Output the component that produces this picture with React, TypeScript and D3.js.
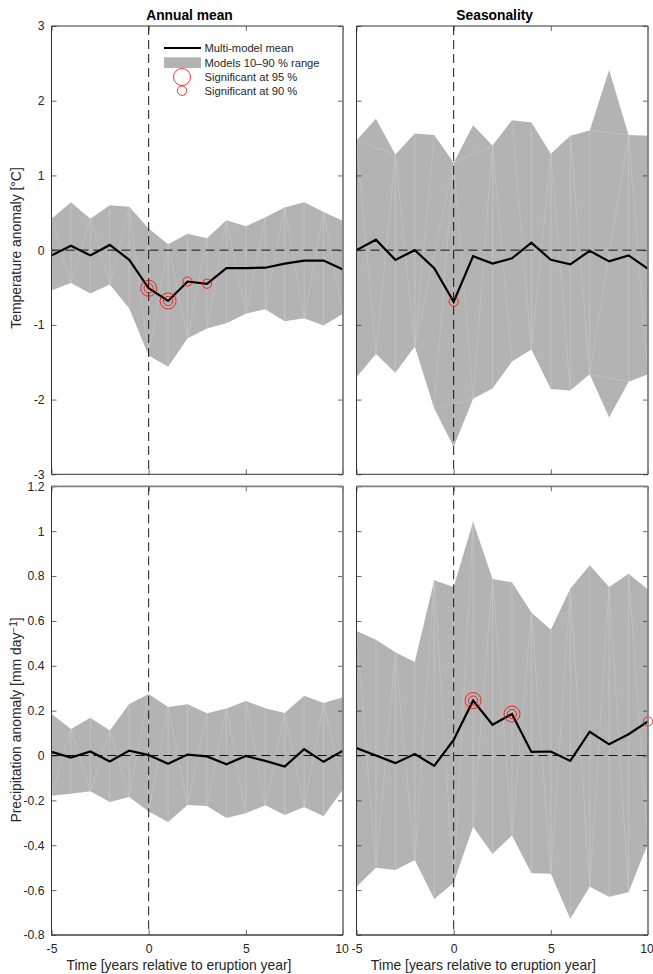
import * as d3 from "d3"
import { useEffect, useRef } from "react"

const years = d3.range(-5, 11)

const tempTicks = [-3, -2, -1, 0, 1, 2, 3]
const precTicks = [-0.8, -0.6, -0.4, -0.2, 0, 0.2, 0.4, 0.6, 0.8, 1, 1.2]
const yearTicks = [-5, 0, 5, 10]

// annual mean, temperature
const tempAnnualHigh = [0.42, 0.64, 0.42, 0.60, 0.58, 0.29, 0.08, 0.22, 0.16, 0.40, 0.32, 0.44, 0.57, 0.64, 0.51, 0.39]
const tempAnnualLow = [-0.54, -0.44, -0.58, -0.46, -0.78, -1.41, -1.56, -1.18, -1.05, -0.98, -0.85, -0.79, -0.95, -0.91, -1.01, -0.85]
const tempAnnualMean = [-0.07, 0.06, -0.07, 0.07, -0.13, -0.51, -0.68, -0.42, -0.45, -0.24, -0.24, -0.235, -0.18, -0.14, -0.14, -0.26]

// seasonality, temperature
const tempSeasonHigh = [1.47, 1.76, 1.28, 1.56, 1.54, 1.17, 1.67, 1.40, 1.74, 1.71, 1.29, 1.53, 1.60, 2.41, 1.54, 1.53]
const tempSeasonLow = [-1.70, -1.39, -1.64, -1.29, -2.12, -2.63, -1.99, -1.85, -1.49, -1.33, -1.86, -1.88, -1.66, -2.24, -1.76, -1.66]
const tempSeasonMean = [0, 0.14, -0.13, 0, -0.24, -0.69, -0.08, -0.18, -0.11, 0.10, -0.13, -0.19, -0.01, -0.15, -0.07, -0.25]

// annual mean, precipitation
const precAnnualHigh = [0.185, 0.118, 0.168, 0.112, 0.23, 0.274, 0.216, 0.228, 0.188, 0.21, 0.243, 0.211, 0.189, 0.266, 0.234, 0.26]
const precAnnualLow = [-0.179, -0.17, -0.159, -0.207, -0.185, -0.25, -0.296, -0.22, -0.225, -0.278, -0.257, -0.222, -0.265, -0.229, -0.271, -0.15]
const precAnnualMean = [0.016, -0.009, 0.018, -0.027, 0.022, 0.002, -0.037, 0.004, -0.004, -0.039, -0.002, -0.024, -0.049, 0.028, -0.028, 0.022]

// seasonality, precipitation
const precSeasonHigh = [0.555, 0.516, 0.46, 0.417, 0.781, 0.751, 1.042, 0.787, 0.772, 0.638, 0.561, 0.743, 0.848, 0.751, 0.81, 0.74]
const precSeasonLow = [-0.585, -0.5, -0.51, -0.466, -0.64, -0.567, -0.317, -0.439, -0.356, -0.525, -0.527, -0.728, -0.585, -0.63, -0.609, -0.391]
const precSeasonMean = [0.033, 0, -0.034, 0.007, -0.046, 0.07, 0.245, 0.137, 0.185, 0.016, 0.018, -0.024, 0.106, 0.05, 0.095, 0.152]

// seams of the patch triangulation: H/L = upper/lower edge, number = index into years
const allInner = d3.range(1, 15)
const seamsTL = "H0L1 L1H2 H2L3 L3H4 H4L5 L5H6 H6L7 L7H8 L8H9 H9L10 L10H11 L11H12 H12L13 L13H14 H14L15"
const seamsTR = "H0L1 L1H2 H2L3 H4L3 H5L3 L4H5 H5L6 L6H7 H7L8 H8L9 L9H10 H10L11 H11L12 L12H14 H14L15 H0H2 H5H7 H12H14 L4L6 L12L14"
const seamsBL = "L0H1 H1L2 L2H3 H3L4 L4H5 L5H6 H6L7 L7H8 L8H9 H9L10 H10L11 L11H12 H12L13 L13H14 H14L15"
const seamsBR = "H0L1 L1H2 H2L3 L3H4 H4L5 L5H6 L6H7 H7L8 L8H9 H9L10 L10H11 H11L12 L12H13 H13L14 H14L15"
const uprightsTR = [2, 3, 7, 9, 10, 11, 12, 14]

const BAND = "#b3b3b3"
const SEAM = "#cbcbcb"
const INK = "#262626"
const FONT = "'Liberation Sans', Arial, sans-serif"

const drawPanel = (svg, opts) => {
    const { left, right, top, bottom, domain, ticks, high, low, mean, sig95, sig90, showY, yTitle, yTitleY, xTitle, xTitleX, title, titleX, seams, uprights, lowerRow } = opts
    const x = d3.scaleLinear().domain([-5, 10]).range([left, right])
    const y = d3.scaleLinear().domain(domain).range([bottom, top])
    const g = svg.append("g")

    // filled band
    const area = d3.area().x((d, i) => x(years[i])).y0((d, i) => y(low[i])).y1(d => y(d))
    g.append("path").attr("d", area(high)).attr("fill", BAND)

    // the light seams between the patch triangles
    const vertex = (edge, i) => [x(years[i]), y(edge === "H" ? high[i] : low[i])]
    uprights.forEach(i => {
        g.append("line").attr("x1", x(years[i])).attr("x2", x(years[i]))
            .attr("y1", y(high[i])).attr("y2", y(low[i]))
            .attr("stroke", SEAM).attr("stroke-width", 0.6)
    })
    seams.split(" ").forEach(s => {
        const m = s.match(/([HL])(\d+)([HL])(\d+)/)
        const a = vertex(m[1], +m[2])
        const b = vertex(m[3], +m[4])
        g.append("line").attr("x1", a[0]).attr("y1", a[1]).attr("x2", b[0]).attr("y2", b[1])
            .attr("stroke", SEAM).attr("stroke-width", 0.5)
    })

    // zero lines
    g.append("line").attr("x1", x(-5)).attr("x2", x(10)).attr("y1", y(0)).attr("y2", y(0))
        .attr("stroke", "#000").attr("stroke-width", 0.9).attr("stroke-dasharray", "9,5")
    g.append("line").attr("x1", x(0)).attr("x2", x(0)).attr("y1", top).attr("y2", bottom)
        .attr("stroke", "#000").attr("stroke-width", 0.9).attr("stroke-dasharray", "9,5")

    // mean
    const line = d3.line().x((d, i) => x(years[i])).y(d => y(d))
    g.append("path").attr("d", line(mean)).attr("fill", "none").attr("stroke", "#000")
        .attr("stroke-width", 2.2).attr("stroke-linejoin", "miter")

    const circles = (list, r) => list.forEach(yr => {
        g.append("circle").attr("cx", x(yr)).attr("cy", y(mean[years.indexOf(yr)])).attr("r", r)
            .attr("fill", "none").attr("stroke", "#ff0000").attr("stroke-width", 0.8)
    })
    circles(sig95, 8)
    circles(sig90, 4.6)

    // axes, ticks point inwards on all four sides
    const tickLen = 5
    const addAxis = (axis, tx, ty, labels) => {
        const a = g.append("g").attr("transform", `translate(${tx},${ty})`).call(axis)
        a.select(".domain").remove()
        a.selectAll("line").attr("stroke", INK).attr("stroke-width", 0.7)
        a.selectAll("text").attr("fill", INK).attr("font-family", FONT).attr("font-size", 12.2)
        if (!labels) a.selectAll("text").remove()
        return a
    }
    const fmtY = d => String(d)
    addAxis(d3.axisLeft(y).tickValues(ticks).tickSize(-tickLen).tickPadding(7).tickFormat(fmtY), left, 0, showY)
    addAxis(d3.axisRight(y).tickValues(ticks).tickSize(-tickLen), right, 0, false)
    addAxis(d3.axisTop(x).tickValues(yearTicks).tickSize(-tickLen), 0, top, false)
    const bx = addAxis(d3.axisBottom(x).tickValues(yearTicks).tickSize(-tickLen).tickPadding(9).tickFormat(d => String(d)), 0, bottom, !!xTitle)
    // the last label sits a little left of its tick so it stays on the page
    bx.selectAll("text").filter(d => d === 10).attr("dx", -1.5)

    // box: the right side (and the top of the lower row) comes out wider and greyer
    const spine = (x1, y1, x2, y2, color, w) => g.append("line")
        .attr("x1", x1).attr("y1", y1).attr("x2", x2).attr("y2", y2).attr("stroke", color).attr("stroke-width", w)
    spine(left, top, left, bottom, "#333", 1)
    spine(right, top, right, bottom, "#808080", 1.8)
    if (lowerRow) {
        spine(left, top, right, top, "#808080", 1.8)
        spine(left, bottom, right, bottom, "#404040", 1.4)
    } else {
        spine(left, top, right, top, "#333", 1)
        spine(left, bottom, right, bottom, "#333", 1)
    }

    if (title) {
        g.append("text").attr("x", titleX).attr("y", top - 6).attr("text-anchor", "middle")
            .attr("font-family", FONT).attr("font-size", 13.8).attr("font-weight", "bold").attr("fill", "#000").text(title)
    }
    if (xTitle) {
        g.append("text").attr("x", xTitleX).attr("y", bottom + 35).attr("text-anchor", "middle")
            .attr("font-family", FONT).attr("font-size", 13.9).attr("fill", INK).text(xTitle)
    }
    if (yTitle) {
        const t = g.append("text").attr("transform", `translate(21,${yTitleY}) rotate(-90)`)
            .attr("text-anchor", "middle").attr("font-family", FONT).attr("font-size", 13.9).attr("fill", INK)
        yTitle.forEach(([s, sup], i) => {
            const sp = t.append("tspan").text(s)
            if (sup) sp.attr("font-size", 10).attr("dy", -4.5)
            else if (i > 0) sp.attr("dy", 4.5)
        })
    }
}

const drawLegend = (svg) => {
    const g = svg.append("g").attr("font-family", FONT).attr("font-size", 11.2).attr("fill", INK)
    g.append("line").attr("x1", 164).attr("x2", 201).attr("y1", 48).attr("y2", 48).attr("stroke", "#000").attr("stroke-width", 2.2)
    g.append("rect").attr("x", 164).attr("y", 57.3).attr("width", 37).attr("height", 10.7).attr("fill", BAND)
    g.append("circle").attr("cx", 182).attr("cy", 77).attr("r", 8.5).attr("fill", "none").attr("stroke", "#ff0000").attr("stroke-width", 0.8)
    g.append("circle").attr("cx", 182).attr("cy", 90.7).attr("r", 4.7).attr("fill", "none").attr("stroke", "#ff0000").attr("stroke-width", 0.8)
    ;["Multi-model mean", "Models 10–90 % range", "Significant at 95 %", "Significant at 90 %"].forEach((s, i) => {
        g.append("text").attr("x", 204.5).attr("y", [52, 67, 81, 95][i]).text(s)
    })
}

const App = () => {
    const svgRef = useRef(null)

    useEffect(() => {
        const svg = d3.select(svgRef.current)
        svg.selectAll("*").remove()

        const lx = [51.5, 343]
        const rx = [356.5, 648]
        const topY = [26, 474.3]
        const botY = [486.3, 935]
        const xLabel = "Time [years relative to eruption year]"

        drawPanel(svg, {
            left: lx[0], right: lx[1], top: topY[0], bottom: topY[1], domain: [-3, 3], ticks: tempTicks,
            high: tempAnnualHigh, low: tempAnnualLow, mean: tempAnnualMean, sig95: [0, 1], sig90: [0, 1, 2, 3],
            showY: true, title: "Annual mean", titleX: 189.5, yTitle: [["Temperature anomaly [°C]"]], yTitleY: 248,
            seams: seamsTL, uprights: allInner,
        })
        drawPanel(svg, {
            left: rx[0], right: rx[1], top: topY[0], bottom: topY[1], domain: [-3, 3], ticks: tempTicks,
            high: tempSeasonHigh, low: tempSeasonLow, mean: tempSeasonMean, sig95: [], sig90: [0],
            showY: false, title: "Seasonality", titleX: 494.7,
            seams: seamsTR, uprights: uprightsTR,
        })
        drawPanel(svg, {
            left: lx[0], right: lx[1], top: botY[0], bottom: botY[1], domain: [-0.8, 1.2], ticks: precTicks,
            high: precAnnualHigh, low: precAnnualLow, mean: precAnnualMean, sig95: [], sig90: [],
            showY: true, xTitle: xLabel, xTitleX: 179, yTitle: [["Precipitation anomaly [mm day"], ["−1", true], ["]"]], yTitleY: 720,
            seams: seamsBL, uprights: allInner, lowerRow: true,
        })
        drawPanel(svg, {
            left: rx[0], right: rx[1], top: botY[0], bottom: botY[1], domain: [-0.8, 1.2], ticks: precTicks,
            high: precSeasonHigh, low: precSeasonLow, mean: precSeasonMean, sig95: [1, 3], sig90: [1, 3, 10],
            showY: false, xTitle: xLabel, xTitleX: 483.3,
            seams: seamsBR, uprights: allInner, lowerRow: true,
        })
        drawLegend(svg)
    }, [])

    return <svg ref={svgRef} width={653} height={974} style={{ position: "absolute", left: 0, top: 0, background: "#fff" }}></svg>
}

export default App
